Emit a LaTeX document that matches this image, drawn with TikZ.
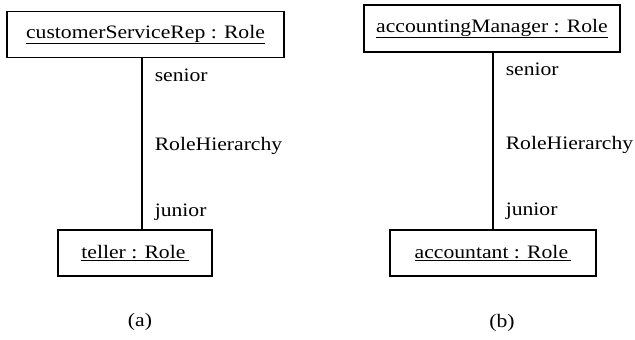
\documentclass[tikz,border=0pt]{standalone}
\usepackage{fontspec}
\setmainfont[FakeStretch=1.14]{Liberation Serif}
\usepackage{tikz}

\tikzset{
  rolebox/.style={draw,line width=1.5pt,minimum height=46pt,inner sep=0pt},
  rolelbl/.style={anchor=west,inner sep=0pt,xshift=12pt},
  assoc/.style={line width=1.5pt}
}

\begin{document}
\begin{tikzpicture}[x=1pt,y=-1pt,font=\fontsize{19}{22}\selectfont]
\useasboundingbox (0,0) rectangle (635,340);
% (a) customerServiceRep over teller
\node[rolebox,minimum width=277pt] (csr) at (145.5,34.5) {\underline{customerServiceRep : Role}};
\node[rolebox,minimum width=154pt] (teller) at (135,253) {\underline{teller : Role\,}};
\draw[assoc] ([xshift=-3.5pt]csr.south) -- ([xshift=-3.5pt]csr.south |- teller.north)
  node[rolelbl,pos=0.10]{senior}
  node[rolelbl,pos=0.51]{RoleHierarchy}
  node[rolelbl,pos=0.90]{junior};
\node (capa) at (140,322) {(a)};
% (b) accountingManager over accountant
\node[rolebox,minimum width=256pt,minimum height=47pt] (mgr) at (492,28.5) {\underline{accountingManager : Role}};
\node[rolebox,minimum width=206pt] (acct) at (493,253) {\underline{accountant : Role\,}};
\draw[assoc] ([xshift=1pt]mgr.south) -- ([xshift=1pt]mgr.south |- acct.north)
  node[rolelbl,pos=0.096]{senior}
  node[rolelbl,pos=0.52]{RoleHierarchy}
  node[rolelbl,pos=0.90]{junior};
\node (capb) at (502,323) {(b)};
\end{tikzpicture}
\end{document}
